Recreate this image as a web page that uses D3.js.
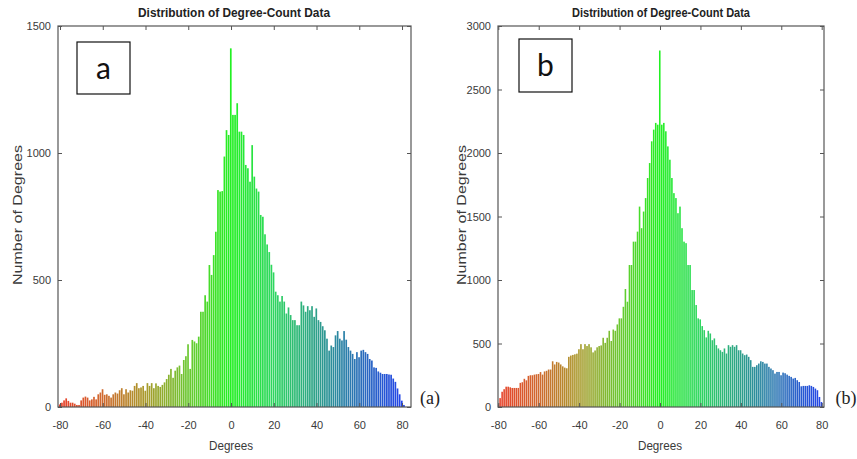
<!DOCTYPE html>
<html>
<head>
<meta charset="utf-8">
<script src="https://cdn.jsdelivr.net/npm/d3@7"></script>
<style>
  html, body { margin: 0; padding: 0; background: #fff; }
  svg { display: block; }
</style>
</head>
<body>
<svg id="chart" width="857" height="459"></svg>
<script>
// ---------------- DATA ----------------
const chartTitle = "Distribution of Degree-Count Data";
const xAxisLabel = "Degrees";
const yAxisLabel = "Number of Degrees";

const xTickValues = [-80, -60, -40, -20, 0, 20, 40, 60, 80];
const yTicksA = [0, 500, 1000, 1500];
const yTicksB = [0, 500, 1000, 1500, 2000, 2500, 3000];

// Panel (a): degree bins -80 .. 81
const degreesA = [-80,-79,-78,-77,-76,-75,-74,-73,-72,-71,-70,-69,-68,-67,-66,-65,-64,-63,-62,-61,
  -60,-59,-58,-57,-56,-55,-54,-53,-52,-51,-50,-49,-48,-47,-46,-45,-44,-43,-42,-41,
  -40,-39,-38,-37,-36,-35,-34,-33,-32,-31,-30,-29,-28,-27,-26,-25,-24,-23,-22,-21,
  -20,-19,-18,-17,-16,-15,-14,-13,-12,-11,-10,-9,-8,-7,-6,-5,-4,-3,-2,-1,
  0,1,2,3,4,5,6,7,8,9,10,11,12,13,14,15,16,17,18,19,
  20,21,22,23,24,25,26,27,28,29,30,31,32,33,34,35,36,37,38,39,
  40,41,42,43,44,45,46,47,48,49,50,51,52,53,54,55,56,57,58,59,
  60,61,62,63,64,65,66,67,68,69,70,71,72,73,74,75,76,77,78,79,80,81];
const countsA = [10,17,26,34,24,17,17,13,8,8,26,37,41,37,26,30,40,30,50,57,
  70,48,50,44,37,50,57,53,66,74,50,70,57,66,64,83,94,74,77,83,
  64,94,83,94,74,93,83,79,87,97,110,127,150,115,143,156,163,130,185,200,
  247,150,264,258,251,277,375,375,440,415,559,520,598,690,854,848,850,986,1090,1071,
  1412,1150,1150,1196,1084,1084,1071,953,940,887,1031,907,860,848,756,749,680,640,610,560,
  530,454,440,415,437,415,368,392,362,342,342,322,322,415,400,375,397,381,397,355,
  388,342,335,318,302,269,222,242,236,282,299,269,262,299,265,236,222,209,189,216,
  196,222,225,216,209,189,183,156,154,140,135,130,130,130,128,127,112,99,73,50,25,8];

// Panel (b): degree bins -80 .. 80
const degreesB = [-80,-79,-78,-77,-76,-75,-74,-73,-72,-71,-70,-69,-68,-67,-66,-65,-64,-63,-62,-61,
  -60,-59,-58,-57,-56,-55,-54,-53,-52,-51,-50,-49,-48,-47,-46,-45,-44,-43,-42,-41,
  -40,-39,-38,-37,-36,-35,-34,-33,-32,-31,-30,-29,-28,-27,-26,-25,-24,-23,-22,-21,
  -20,-19,-18,-17,-16,-15,-14,-13,-12,-11,-10,-9,-8,-7,-6,-5,-4,-3,-2,-1,
  0,1,2,3,4,5,6,7,8,9,10,11,12,13,14,15,16,17,18,19,
  20,21,22,23,24,25,26,27,28,29,30,31,32,33,34,35,36,37,38,39,
  40,41,42,43,44,45,46,47,48,49,50,51,52,53,54,55,56,57,58,59,
  60,61,62,63,64,65,66,67,68,69,70,71,72,73,74,75,76,77,78,79,80];
const countsB = [20,70,120,140,160,160,155,150,150,150,150,190,195,222,210,245,250,250,255,258,
  260,275,255,280,285,295,295,360,335,355,350,335,320,310,305,395,405,410,415,420,
  455,495,455,495,480,495,470,430,445,470,480,485,545,505,545,600,520,610,600,650,
  698,698,789,929,829,1118,1118,1302,1302,1381,1578,1408,1539,1645,1803,1921,2092,2184,2237,2223,
  2807,2223,2237,2171,2052,1947,1803,1684,1645,1526,1578,1408,1302,1290,1118,1118,921,921,803,698,
  690,637,605,548,600,579,526,540,487,461,447,434,461,421,487,474,487,474,487,447,
  447,421,408,413,395,369,316,316,329,342,360,355,342,342,316,303,290,263,276,276,
  250,271,266,255,245,237,224,229,211,197,163,166,166,166,171,166,158,145,132,79,39];

// colour map stops (degree -> colour)
const colorStopDegrees = [-80, -60, -40, -20, 0, 20, 40, 60, 80];
const colorStopValues = ["#e8402a", "#d0692e", "#a99a2c", "#6cc832", "#22f022", "#2fd660", "#2ea08a", "#2a70b8", "#2244e8"];

// annotations
const panelLetters = ["a", "b"];
const panelCaptions = ["(a)", "(b)"];

// ---------------- DRAW ----------------
const svg = d3.select("#chart");
const color = d3.scaleLinear().domain(colorStopDegrees).range(colorStopValues).interpolate(d3.interpolateRgb).clamp(true);

const panels = [
  { id: "A", degrees: degreesA, counts: countsA, yTicks: yTicksA, yMax: 1500,
    left: 58, right: 411, top: 26, bottom: 407, xDomain: [-80.94, 84.2],
    titleX: 234, titleW: 192, yLabelX: 18, letterBox: [77, 42, 53, 52], letter: panelLetters[0],
    caption: panelCaptions[0], captionX: 430 },
  { id: "B", degrees: degreesB, counts: countsB, yTicks: yTicksB, yMax: 3000,
    left: 498, right: 824, top: 26, bottom: 407, xDomain: [-80.15, 81.14],
    titleX: 661, titleW: 178, yLabelX: 462, letterBox: [519, 39, 53, 53], letter: panelLetters[1],
    caption: panelCaptions[1], captionX: 846 }
];

const tickFont = "'Liberation Sans', Arial, sans-serif";

panels.forEach((p, i) => {
  const x = d3.scaleLinear().domain(p.xDomain).range([p.left, p.right]);
  const y = d3.scaleLinear().domain([0, p.yMax]).range([p.bottom, p.top]);
  const g = svg.append("g");

  const clipId = "clip" + p.id;
  svg.append("clipPath").attr("id", clipId).append("rect")
    .attr("x", p.left).attr("y", p.top).attr("width", p.right - p.left).attr("height", p.bottom - p.top);

  // bars
  const data = p.degrees.map((d, k) => ({ deg: d, v: p.counts[k] }));
  g.append("g").attr("clip-path", `url(#${clipId})`)
    .selectAll("rect").data(data).join("rect")
    .attr("x", d => x(d.deg - 0.5))
    .attr("width", d => Math.max(0.5, x(d.deg + 0.5) - x(d.deg - 0.5) - 0.45))
    .attr("y", d => y(d.v))
    .attr("height", d => y(0) - y(d.v))
    .attr("fill", d => color(d.deg));

  // axes (ticks inside, on all four sides)
  const axB = d3.axisBottom(x).tickValues(xTickValues).tickSize(-4).tickPadding(14).tickFormat(d => String(d));
  const axT = d3.axisTop(x).tickValues(xTickValues).tickSize(-4).tickFormat("");
  const axL = d3.axisLeft(y).tickValues(p.yTicks).tickSize(-4).tickPadding(7).tickFormat(d => String(d));
  const axR = d3.axisRight(y).tickValues(p.yTicks).tickSize(-4).tickFormat("");

  const gb = g.append("g").attr("transform", `translate(0,${p.bottom})`).call(axB);
  const gt = g.append("g").attr("transform", `translate(0,${p.top})`).call(axT);
  const gl = g.append("g").attr("transform", `translate(${p.left},0)`).call(axL);
  const gr = g.append("g").attr("transform", `translate(${p.right},0)`).call(axR);
  [gb, gt, gl, gr].forEach(a => {
    a.select(".domain").remove();
    a.selectAll(".tick line").attr("stroke", "#555").attr("stroke-width", 1);
    a.selectAll(".tick text").attr("fill", "#3a3a3a").attr("font-size", "11px").attr("font-family", tickFont);
  });

  // frame
  g.append("rect").attr("x", p.left).attr("y", p.top)
    .attr("width", p.right - p.left).attr("height", p.bottom - p.top)
    .attr("fill", "none").attr("stroke", "#555").attr("stroke-width", 1.2);

  // title
  g.append("text").attr("x", p.titleX).attr("y", 17).attr("text-anchor", "middle")
    .attr("font-family", tickFont).attr("font-weight", "bold").attr("font-size", "12px")
    .attr("fill", "#222").attr("textLength", p.titleW).attr("lengthAdjust", "spacingAndGlyphs")
    .text(chartTitle);

  // x label
  g.append("text").attr("x", (x(-80) + x(80)) / 2).attr("y", 450).attr("text-anchor", "middle")
    .attr("font-family", tickFont).attr("font-size", "13px").attr("fill", "#3a3a3a")
    .attr("textLength", 44).attr("lengthAdjust", "spacingAndGlyphs")
    .text(xAxisLabel);

  // y label
  g.append("text").attr("transform", `translate(${p.yLabelX + 4},${215}) rotate(-90)`)
    .attr("text-anchor", "middle").attr("font-family", tickFont).attr("font-size", "12px")
    .attr("fill", "#3a3a3a").attr("textLength", 140).attr("lengthAdjust", "spacingAndGlyphs")
    .text(yAxisLabel);

  // letter box
  const [bx, by, bw, bh] = p.letterBox;
  g.append("rect").attr("x", bx).attr("y", by).attr("width", bw).attr("height", bh)
    .attr("fill", "#fff").attr("stroke", "#111").attr("stroke-width", 1.2);
  g.append("text").attr("x", bx + bw / 2).attr("y", by + 37).attr("text-anchor", "middle")
    .attr("font-family", "Lato, 'Open Sans', sans-serif").attr("font-size", "30px").attr("fill", "#111")
    .text(p.letter);

  // caption
  g.append("text").attr("x", p.captionX).attr("y", 404).attr("text-anchor", "middle")
    .attr("font-family", "'Liberation Serif', 'Times New Roman', serif").attr("font-size", "18px")
    .attr("fill", "#222").text(p.caption);
});
</script>
</body>
</html>
